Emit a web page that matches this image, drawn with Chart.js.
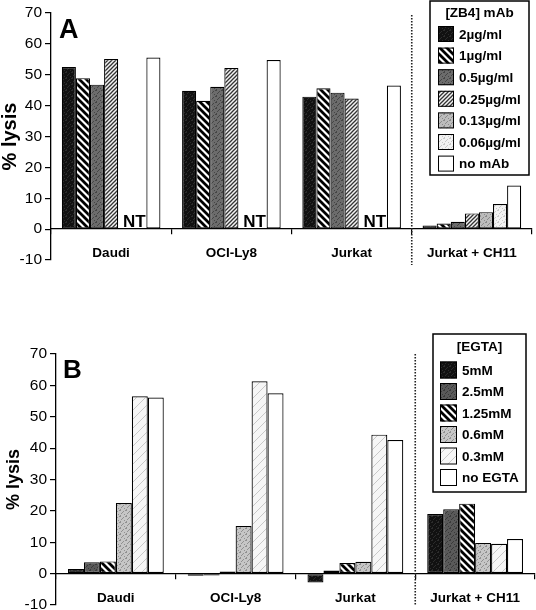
<!DOCTYPE html>
<html>
<head>
<meta charset="utf-8">
<script src="https://cdn.jsdelivr.net/npm/chart.js@4.4.0/dist/chart.umd.min.js"></script>
<style>
  html, body { margin:0; padding:0; background:#fff; overflow:hidden; }
  canvas { display:block; }
</style>
</head>
<body>
<canvas id="chartA" width="536" height="300"></canvas>
<canvas id="chartB" width="536" height="320"></canvas>
<script>
// categories and axis
const cells = ["Daudi", "OCI-Ly8", "Jurkat", "Jurkat + CH11"];
const yMin = -10, yMax = 70, yStep = 10;

// panel A: [ZB4] mAb dose, null = not tested (NT)
const zb4Labels = ["2µg/ml", "1µg/ml", "0.5µg/ml", "0.25µg/ml", "0.13µg/ml", "0.06µg/ml", "no mAb"];
const zb4_2    = [52.5, 44.8, 42.9, 1.2];
const zb4_1    = [48.9, 41.6, 45.6, 1.8];
const zb4_05   = [46.8, 46.1, 44.2, 2.4];
const zb4_025  = [55.1, 52.2, 42.3, 5.1];
const zb4_013  = [null, null, null, 5.5];
const zb4_006  = [null, null, null, 8.1];
const zb4_none = [55.6, 54.8, 46.5, 14.1];

// panel B: [EGTA] dose
const egtaLabels = ["5mM", "2.5mM", "1.25mM", "0.6mM", "0.3mM", "no EGTA"];
const egta5    = [1.5, -0.7, -2.8, 19.0];
const egta25   = [3.6, -0.6, 1.0, 20.5];
const egta125  = [3.9, 0.7, 3.4, 22.3];
const egta06   = [22.5, 15.2, 3.8, 9.8];
const egta03   = [56.5, 61.3, 44.3, 9.5];
const egtaNone = [56.1, 57.5, 42.6, 11.0];

const FONT = '"Liberation Sans", Arial, sans-serif';

// fill textures
function tile(ctx, size, draw) {
  const c = document.createElement("canvas");
  c.width = c.height = size;
  draw(c.getContext("2d"), size);
  return ctx.createPattern(c, "repeat");
}
function hatch(ctx, size, width, color, bg, back) {
  return tile(ctx, size, (g, s) => {
    g.fillStyle = bg; g.fillRect(0, 0, s, s);
    g.strokeStyle = color; g.lineWidth = width; g.lineCap = "square";
    g.beginPath();
    for (const k of [-s, 0, s, 2 * s]) {
      if (back) { g.moveTo(k, 0); g.lineTo(k + s, s); }
      else { g.moveTo(k, 0); g.lineTo(k - s, s); }
    }
    g.stroke();
  });
}
function speckle(ctx, base, dot) {
  const spots = [[0,0],[3,1],[1,3],[4,4],[2,2],[5,0],[0,5]];
  return tile(ctx, 6, (g, s) => {
    g.fillStyle = base; g.fillRect(0, 0, s, s);
    g.fillStyle = dot;
    spots.forEach(p => g.fillRect(p[0], p[1], 1, 1));
  });
}

const boxLegend = {
  id: "boxLegend",
  afterDraw(chart, args, o) {
    const ctx = chart.ctx;
    ctx.save();
    ctx.fillStyle = "#fff";
    ctx.fillRect(o.x, o.y, o.w, o.h);
    ctx.strokeStyle = "#000"; ctx.lineWidth = 1.5;
    ctx.strokeRect(o.x, o.y, o.w, o.h);
    ctx.font = "bold 13.5px " + FONT;
    ctx.fillStyle = "#000"; ctx.textAlign = "center"; ctx.textBaseline = "middle";
    ctx.fillText(o.title, o.x + o.w / 2, o.titleY);
    ctx.textAlign = "left";
    chart.data.datasets.forEach((ds, i) => {
      const cy = o.row0 + i * o.gap;
      ctx.fillStyle = ds.backgroundColor;
      ctx.fillRect(o.sx, cy - o.sw / 2, o.sw, o.sw);
      ctx.lineWidth = 1; ctx.strokeStyle = "#000";
      ctx.strokeRect(o.sx + 0.5, cy - o.sw / 2 + 0.5, o.sw - 1, o.sw - 1);
      ctx.fillStyle = "#000";
      ctx.fillText(ds.label, o.sx + o.sw + 5, cy + 1);
    });
    ctx.restore();
  }
};

const extras = {
  id: "extras",
  afterDatasetsDraw(chart, args, o) {
    const { ctx, chartArea } = chart;
    const x = chart.scales.x, y = chart.scales.y;
    ctx.save();
    // dotted divider before the last cell
    const xd = (x.getPixelForValue(2) + x.getPixelForValue(3)) / 2;
    ctx.strokeStyle = "#222"; ctx.lineWidth = 1.6; ctx.setLineDash([1.6, 1.4]);
    ctx.beginPath();
    ctx.moveTo(xd, chartArea.top + o.divTop);
    ctx.lineTo(xd, chartArea.bottom + o.divBottom);
    ctx.stroke();
    ctx.setLineDash([]);
    // panel letter
    ctx.fillStyle = "#000";
    ctx.font = "bold " + o.letterSize + "px " + FONT;
    ctx.textAlign = "left"; ctx.textBaseline = "alphabetic";
    ctx.fillText(o.letter, chartArea.left + o.letterDx, chartArea.top + o.letterDy);
    // NT marks where both low doses are missing
    if (o.nt) {
      const [a, b] = o.nt;
      const ma = chart.getDatasetMeta(a), mb = chart.getDatasetMeta(b);
      const y0 = y.getPixelForValue(0);
      ctx.font = "bold 17px " + FONT;
      ctx.textAlign = "center";
      chart.data.labels.forEach((l, i) => {
        if (chart.data.datasets[a].data[i] == null && chart.data.datasets[b].data[i] == null) {
          ctx.fillText("NT", (ma.data[i].x + mb.data[i].x) / 2 + 2, y0 - 2);
        }
      });
    }
    ctx.restore();
  }
};

function makeChart(id, labels, series, fills, opts) {
  const canvas = document.getElementById(id);
  return new Chart(canvas.getContext("2d"), {
    type: "bar",
    data: {
      labels: cells,
      datasets: series.map((d, i) => ({
        label: labels[i], data: d,
        backgroundColor: fills[i], borderColor: "#000", borderWidth: 1.2,
        borderSkipped: false,
        categoryPercentage: opts.catPct, barPercentage: 1
      }))
    },
    options: {
      responsive: false, animation: false,
      layout: { padding: opts.padding },
      plugins: {
        legend: { display: false }, tooltip: { enabled: false },
        boxLegend: opts.legend, extras: opts.extras
      },
      scales: {
        x: {
          position: { y: 0 },
          grid: { offset: true, drawOnChartArea: false, color: "#000", tickLength: 5, lineWidth: 1.2 },
          border: { color: "#000", width: 1.3 },
          ticks: { color: "#000", padding: opts.labelPad, font: { family: FONT, size: 13.5, weight: "bold" }, maxRotation: 0 }
        },
        y: {
          min: yMin, max: yMax,
          afterFit(scale) { scale.width = opts.axisLeft; },
          grid: { drawOnChartArea: false, color: "#000", tickLength: 6, lineWidth: 1.2 },
          border: { color: "#000", width: 1.3 },
          ticks: { stepSize: yStep, color: "#000", padding: 3, font: { family: FONT, size: 15.5 } },
          title: {
            display: true, text: "% lysis", color: "#000",
            font: { family: FONT, size: opts.titleSize, weight: "bold", lineHeight: 1 },
            padding: { top: opts.titlePad, bottom: 0 }
          }
        }
      }
    },
    plugins: [extras, boxLegend]
  });
}

const ctxA = document.getElementById("chartA").getContext("2d");
const fillsA = [
  speckle(ctxA, "#111111", "#2c2c2c"),
  hatch(ctxA, 7, 2.8, "#000", "#fff", true),
  speckle(ctxA, "#6c6c6c", "#454545"),
  hatch(ctxA, 4, 1.3, "#333", "#f4f4f4", false),
  speckle(ctxA, "#bcbcbc", "#8a8a8a"),
  speckle(ctxA, "#f2f2f2", "#c8c8c8"),
  "#ffffff"
];
makeChart("chartA", zb4Labels,
  [zb4_2, zb4_1, zb4_05, zb4_025, zb4_013, zb4_006, zb4_none], fillsA, {
    catPct: 0.82, axisLeft: 51, titleSize: 20, titlePad: 0, labelPad: 11,
    padding: { top: 13, right: 4, bottom: 40, left: 0 },
    legend: { x: 430, y: 1, w: 99, h: 174, title: "[ZB4] mAb", titleY: 13, row0: 34, gap: 21.6, sx: 438, sw: 16 },
    extras: { divTop: 2, divBottom: 5, letter: "A", letterSize: 27, letterDx: 8, letterDy: 25, nt: [4, 5] }
  });

const ctxB = document.getElementById("chartB").getContext("2d");
const fillsB = [
  speckle(ctxB, "#111111", "#2c2c2c"),
  speckle(ctxB, "#5a5a5a", "#3a3a3a"),
  hatch(ctxB, 7, 2.8, "#000", "#fff", true),
  speckle(ctxB, "#c6c6c6", "#909090"),
  hatch(ctxB, 9, 0.8, "#bdbdbd", "#f6f6f6", false),
  "#ffffff"
];
makeChart("chartB", egtaLabels,
  [egta5, egta25, egta125, egta06, egta03, egtaNone], fillsB, {
    catPct: 0.8, axisLeft: 56, titleSize: 18, titlePad: 5, labelPad: 12,
    padding: { top: 54, right: 1, bottom: 15, left: 0 },
    legend: { x: 433, y: 34, w: 93, h: 158, title: "[EGTA]", titleY: 47, row0: 70, gap: 21.5, sx: 440, sw: 17 },
    extras: { divTop: 0, divBottom: 0, letter: "B", letterSize: 26, letterDx: 7, letterDy: 24 }
  });
</script>
</body>
</html>
